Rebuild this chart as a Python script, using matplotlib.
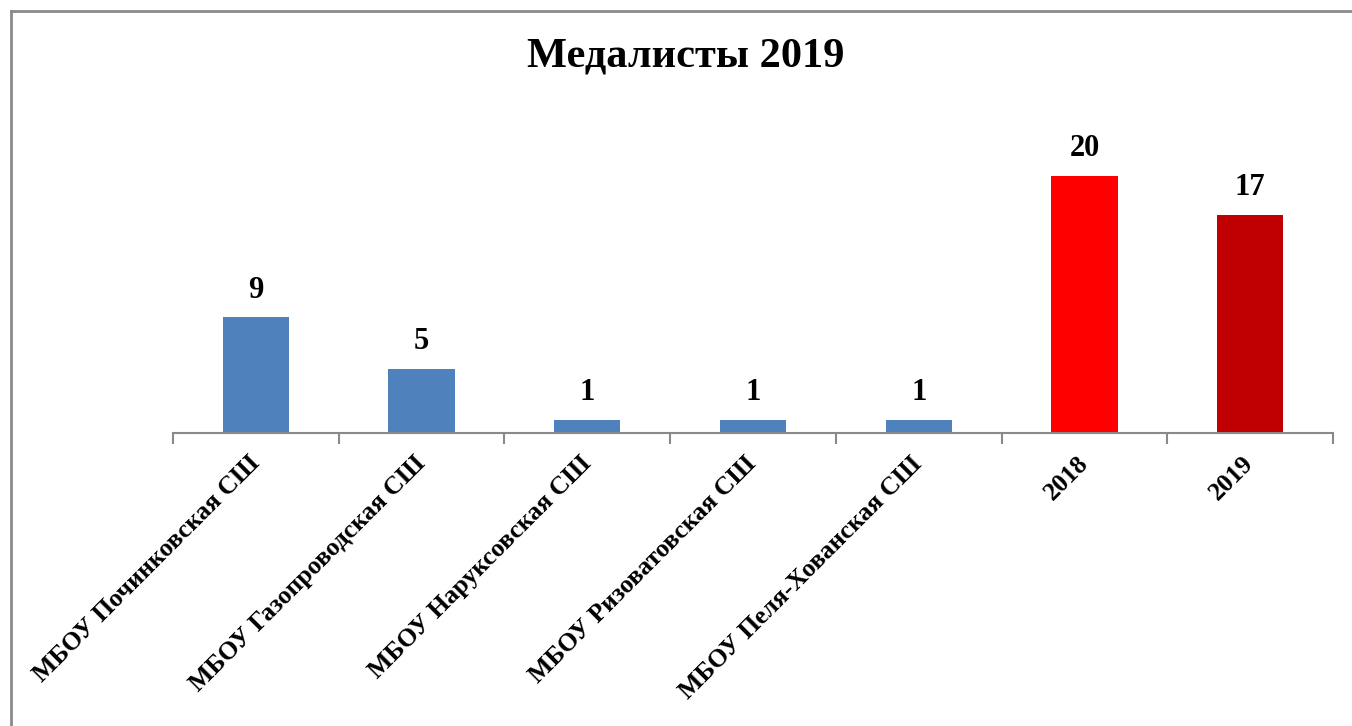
import matplotlib
matplotlib.use("Agg")
import matplotlib.pyplot as plt
from matplotlib.lines import Line2D
import numpy as np

categories = ["МБОУ Починковская СШ", "МБОУ Газопроводская СШ", "МБОУ Наруксовская СШ",
              "МБОУ Ризоватовская СШ", "МБОУ Пеля-Хованская СШ", "2018", "2019"]
values = [9, 5, 1, 1, 1, 20, 17]
colors = ["#4F81BD"] * 5 + ["#FF0000", "#C00000"]
title = "Медалисты 2019"

plt.rcParams['font.family'] = ['Liberation Serif', 'DejaVu Serif']

W, H = 1352, 726
fig = plt.figure(figsize=(W / 100, H / 100), dpi=100)

# axes in pixel coordinates
left, right, bottom, top = 173, 1333, 433, 111.75
ax = fig.add_axes([left / W, 1 - bottom / H, (right - left) / W, (bottom - top) / H])

x = np.arange(len(values))
ax.bar(x, values, width=0.40, color=colors, zorder=2)
for xi, v in zip(x, values):
    ax.text(xi, v + 1.0, str(v), ha='center', va='bottom', fontsize=22, fontweight='bold')

ax.set_xlim(-0.5, len(values) - 0.5)
ax.set_ylim(0, 25)
for s in ['top', 'right', 'left']:
    ax.spines[s].set_visible(False)
ax.spines['bottom'].set_color('#898989')
ax.spines['bottom'].set_linewidth(1.5)
ax.set_yticks([])
ax.set_xticks(x)
ax.set_xticklabels(categories, rotation=45, ha='right', va='center', rotation_mode='anchor',
                   fontsize=18.5, fontweight='bold')
ax.tick_params(axis='x', which='major', length=0, pad=19.5)
ax.set_xticks(np.arange(-0.5, len(values)), minor=True)
ax.tick_params(axis='x', which='minor', length=8, width=1.5, color='#898989', direction='out')

fig.text(686 / W, 1 - 57 / H, title, ha='center', va='center', fontsize=30.5, fontweight='bold')

# outer frame (left and top)
fig.add_artist(Line2D([10.5 / W, 10.5 / W], [0, 1 - 10.5 / H], transform=fig.transFigure,
                      color='#8a8a8a', lw=2))
fig.add_artist(Line2D([10.5 / W, 1], [1 - 10.5 / H, 1 - 10.5 / H], transform=fig.transFigure,
                      color='#8a8a8a', lw=2))

fig.savefig("out.png", dpi=100)
